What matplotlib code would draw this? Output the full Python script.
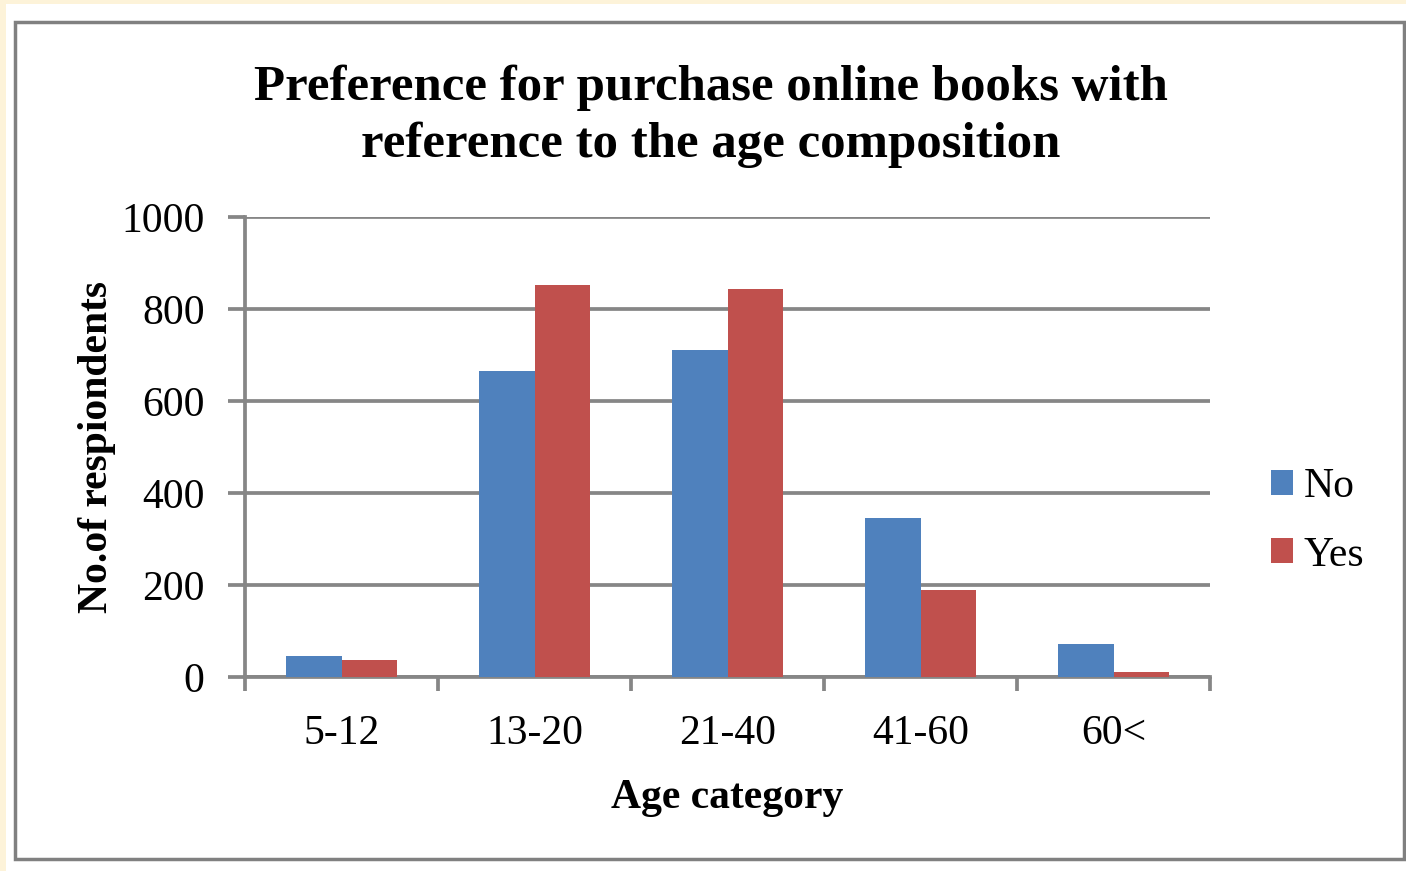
import matplotlib
matplotlib.use("Agg")
import matplotlib.pyplot as plt
from matplotlib.patches import Rectangle
import numpy as np

# Survey counts by age group
categories = ["5-12", "13-20", "21-40", "41-60", "60<"]
no_values = [45, 665, 710, 345, 72]
yes_values = [38, 853, 843, 190, 10]
series_labels = ["No", "Yes"]
y_ticks = [0, 200, 400, 600, 800, 1000]

W, H = 1406, 871
plt.rcParams["font.family"] = ["Liberation Serif", "DejaVu Serif"]

fig = plt.figure(figsize=(W / 100, H / 100), dpi=100, facecolor="#FDF3D9")

def fx(px):
    return px / W

def fy(py):
    return 1 - py / H

# White card and gray frame around the chart
fig.patches.append(Rectangle((fx(6), 0), fx(1406 - 6), fy(4), transform=fig.transFigure,
                             facecolor="white", edgecolor="none", zorder=-5))
fig.patches.append(Rectangle((fx(14.5), fy(859)), fx(1404 - 14.5), fy(22.5) - fy(859),
                             transform=fig.transFigure, facecolor="none",
                             edgecolor="#808080", linewidth=2.5, zorder=5))

ax = fig.add_axes([fx(245), fy(677), fx(1210 - 245), fy(217) - fy(677)])
ax.set_facecolor("none")

x = np.arange(len(categories))
w = 1 / 3.5
blue, red = "#4F81BD", "#C0504D"
ax.bar(x - w / 2, no_values, width=w, color=blue, label=series_labels[0], zorder=3)
ax.bar(x + w / 2, yes_values, width=w, color=red, label=series_labels[1], zorder=3)

ax.set_xlim(-0.5, len(categories) - 0.5)
ax.set_ylim(0, 1000)
ax.set_yticks(y_ticks)
ax.set_yticklabels([str(v) for v in y_ticks], fontsize=30)
ax.yaxis.grid(True, color="#868686", linewidth=2.7, zorder=1)
ax.set_axisbelow(True)

# Category labels centered, tick marks at group boundaries
ax.set_xticks(x)
ax.set_xticklabels(categories, fontsize=30)
ax.tick_params(axis="x", length=0, pad=27)
ax.set_xticks(np.arange(-0.5, len(categories)), minor=True)
ax.tick_params(axis="x", which="minor", length=10, width=2.7, color="#868686", direction="out")
ax.tick_params(axis="y", length=12, width=2.7, color="#868686", pad=17)

for side in ["top", "right"]:
    ax.spines[side].set_visible(False)
for side in ["left", "bottom"]:
    ax.spines[side].set_color("#868686")
    ax.spines[side].set_linewidth(2.7)

ax.set_xlabel("Age category", fontsize=30, fontweight="bold", labelpad=19)
ax.set_ylabel("No.of respiondents", fontsize=30, fontweight="bold", labelpad=4)

fig.text(fx(711), fy(116), "Preference for purchase online books with\nreference to the age composition",
         ha="center", va="center", fontsize=36.6, fontweight="bold", linespacing=1.3)

fig.legend(loc="center left", bbox_to_anchor=(fx(1233), fy(521)), frameon=False,
           fontsize=30, handlelength=0.55, handleheight=0.55, handletextpad=0.25,
           labelspacing=0.72)

fig.savefig("out.png", dpi=100, facecolor=fig.get_facecolor())
